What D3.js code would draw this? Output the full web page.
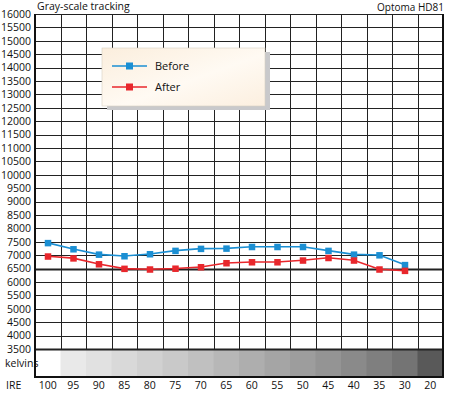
<!DOCTYPE html>
<html>
<head>
<meta charset="utf-8">
<script src="https://cdn.jsdelivr.net/npm/d3@7"></script>
<style>
  body { margin: 0; background: #fff; }
  text { font-family: "Open Sans", "Liberation Sans", sans-serif; }
</style>
</head>
<body>
<svg id="chart" width="450" height="393"></svg>
<script>
const width = 450;
const height = 393;
const marginLeft = 35;
const marginRight = 7;
const plotTop = 14;
const plotBottom = 349;
const bandBottom = 377;

// data
const ire = ["100", "95", "90", "85", "80", "75", "70", "65", "60", "55", "50", "45", "40", "35", "30", "20"];
const before = [7460, 7230, 7030, 6970, 7045, 7170, 7245, 7255, 7315, 7315, 7315, 7170, 7030, 7005, 6640];
const after = [6960, 6890, 6670, 6500, 6475, 6505, 6560, 6710, 6745, 6745, 6810, 6905, 6810, 6475, 6425];
const grayShades = [null, "#e9e9e9", "#e1e1e1", "#d9d9d9", "#d1d1d1", "#c9c9c9", "#c0c0c0", "#b7b7b7", "#aeaeae", "#a5a5a5", "#9d9d9d", "#949494", "#8a8a8a", "#7f7f7f", "#747474", "#595959"];
const yTicks = d3.range(3500, 16001, 500);
const series = [
  { name: "Before", values: before, color: "#1b8fd3" },
  { name: "After", values: after, color: "#e8272c" }
];

const svg = d3.select("#chart");

const x = d3.scaleBand()
  .domain(ire)
  .range([marginLeft, width - marginRight]);

const y = d3.scaleLinear()
  .domain([3500, 16000])
  .range([plotBottom, plotTop]);

// kelvin gray band
svg.append("g")
  .selectAll("rect")
  .data(ire.map((d, i) => ({ ire: d, shade: grayShades[i] })).filter(d => d.shade))
  .join("rect")
  .attr("x", d => x(d.ire))
  .attr("y", plotBottom + 1)
  .attr("width", x.bandwidth() + 0.5)
  .attr("height", bandBottom - plotBottom - 1)
  .attr("fill", d => d.shade);

// horizontal grid
svg.append("g")
  .selectAll("line")
  .data(yTicks)
  .join("line")
  .attr("x1", marginLeft)
  .attr("x2", width - marginRight)
  .attr("y1", d => Math.round(y(d)) + 0.5)
  .attr("y2", d => Math.round(y(d)) + 0.5)
  .attr("stroke", "#222")
  .attr("stroke-width", d => d === 6500 || d === 3500 ? 2 : 1);

// vertical grid
svg.append("g")
  .selectAll("line")
  .data(ire.slice(1))
  .join("line")
  .attr("x1", d => Math.round(x(d)) + 0.5)
  .attr("x2", d => Math.round(x(d)) + 0.5)
  .attr("y1", plotTop)
  .attr("y2", plotBottom)
  .attr("stroke", "#222");

// frame
svg.append("path")
  .attr("d", `M${marginLeft},${plotTop}V${bandBottom}H${width - marginRight}V${plotTop}`)
  .attr("fill", "none")
  .attr("stroke", "#111")
  .attr("stroke-width", 2);

// y axis labels
svg.append("g")
  .attr("transform", `translate(${marginLeft},0)`)
  .call(d3.axisLeft(y).tickValues(yTicks).tickSize(0).tickPadding(4).tickFormat(d3.format("d")))
  .call(g => g.select(".domain").remove())
  .call(g => g.selectAll("text").attr("font-size", 10.5).attr("fill", "#111").style("font-family", "'Open Sans', sans-serif"));

// IRE labels
svg.append("g")
  .attr("transform", `translate(0,${bandBottom})`)
  .call(d3.axisBottom(x).tickSize(0).tickPadding(5))
  .call(g => g.select(".domain").remove())
  .call(g => g.selectAll("text").attr("font-size", 10.5).attr("fill", "#111").style("font-family", "'Open Sans', sans-serif"));

svg.append("text").attr("x", 5).attr("y", 367).attr("font-size", 10.5).attr("fill", "#111").text("kelvins");
svg.append("text").attr("x", 6).attr("y", 389).attr("font-size", 10.5).attr("fill", "#111").text("IRE");

// titles
svg.append("text").attr("x", 37).attr("y", 10).attr("font-size", 10.5).attr("fill", "#111").text("Gray-scale tracking");
svg.append("text").attr("x", width - 6).attr("y", 11).attr("text-anchor", "end").attr("font-size", 10).attr("fill", "#111").text("Optoma HD81");

// series
const line = d3.line()
  .x((d, i) => x(ire[i]) + x.bandwidth() / 2)
  .y(d => y(d));

series.forEach(s => {
  svg.append("path")
    .datum(s.values)
    .attr("d", line)
    .attr("fill", "none")
    .attr("stroke", s.color)
    .attr("stroke-width", 1.6);
  svg.append("g")
    .selectAll("rect")
    .data(s.values)
    .join("rect")
    .attr("x", (d, i) => x(ire[i]) + x.bandwidth() / 2 - 3)
    .attr("y", d => y(d) - 3)
    .attr("width", 6.5)
    .attr("height", 6.5)
    .attr("fill", s.color);
});

// legend
const defs = svg.append("defs");
const grad = defs.append("linearGradient").attr("id", "lg").attr("x1", 0).attr("x2", 1).attr("y1", 0).attr("y2", 1);
grad.append("stop").attr("offset", "0%").attr("stop-color", "#fbeedd");
grad.append("stop").attr("offset", "55%").attr("stop-color", "#fffaf3");
grad.append("stop").attr("offset", "100%").attr("stop-color", "#fcefdf");

const legend = svg.append("g").attr("transform", "translate(102,48)");
legend.append("rect").attr("x", 5).attr("y", 4).attr("width", 163).attr("height", 58).attr("fill", "#c9c9cb");
legend.append("rect").attr("width", 163).attr("height", 58).attr("fill", "url(#lg)").attr("stroke", "#d8cfc4").attr("stroke-width", 0.6);

series.forEach((s, i) => {
  const ly = 18 + i * 21;
  legend.append("line").attr("x1", 10).attr("x2", 45).attr("y1", ly).attr("y2", ly)
    .attr("stroke", s.color).attr("stroke-width", 1.6);
  legend.append("rect").attr("x", 24).attr("y", ly - 3.5).attr("width", 7).attr("height", 7).attr("fill", s.color);
  legend.append("text").attr("x", 53).attr("y", ly + 4).attr("font-size", 11).attr("font-weight", 500)
    .attr("fill", "#111").text(s.name);
});
</script>
</body>
</html>
